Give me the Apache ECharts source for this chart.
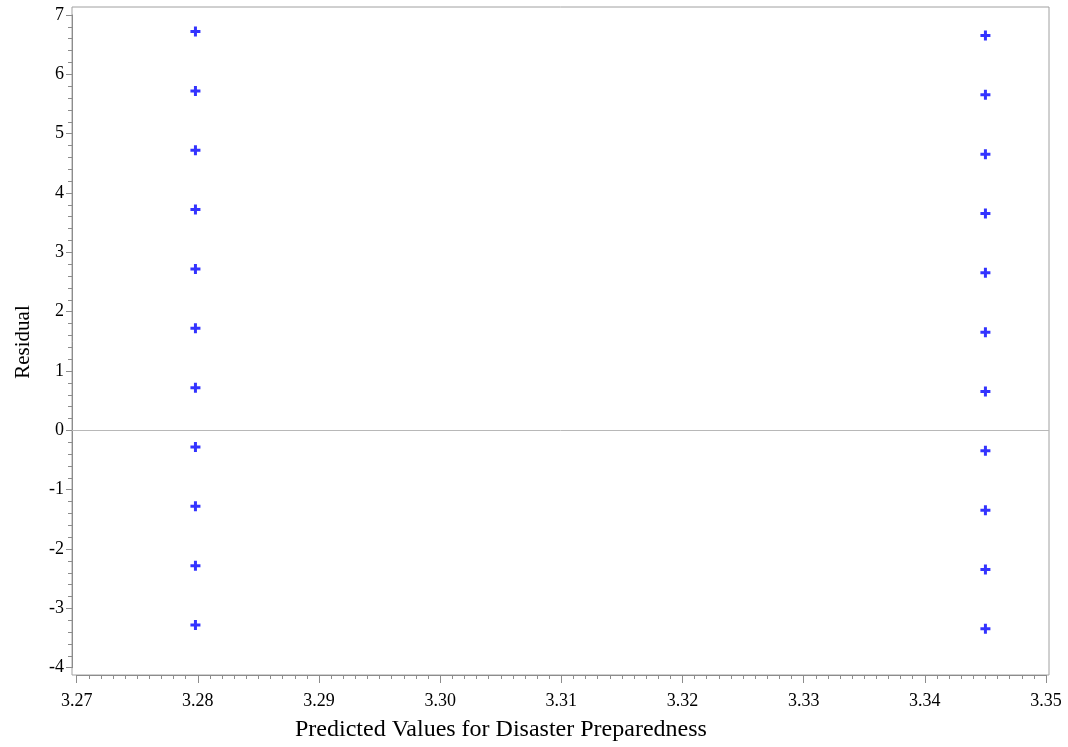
<!DOCTYPE html>
<html><head><meta charset="utf-8">
<script src="https://cdn.jsdelivr.net/npm/echarts@6/dist/echarts.min.js"></script>
<style>html,body{margin:0;padding:0;background:#fff}#c{width:1068px;height:747px}</style>
</head><body><div id="c"></div>
<script>
const predictedLow = 3.2798;
const predictedHigh = 3.345;
const residualsLow = [6.72, 5.72, 4.72, 3.72, 2.72, 1.72, 0.72, -0.28, -1.28, -2.28, -3.28];
const residualsHigh = [6.655, 5.655, 4.655, 3.655, 2.655, 1.655, 0.655, -0.345, -1.345, -2.345, -3.345];
const xTitle = 'Predicted Values for Disaster Preparedness';
const yTitle = 'Residual';
const referenceResidual = 0;

const pts = [];
residualsLow.forEach(r => pts.push([predictedLow, r]));
residualsHigh.forEach(r => pts.push([predictedHigh, r]));

const font = '"Liberation Serif", "Times New Roman", serif';
const axisGray = '#8c8c8c';
const plus = 'path://M3.5,0h3v3.5h3.5v3h-3.5v3.5h-3v-3.5h-3.5v-3h3.5z';

const chart = echarts.init(document.getElementById('c'), null, {renderer: 'canvas'});
chart.setOption({
  animation: false,
  grid: [
    {left: 72, right: 19, top: 7, bottom: 72, show: true, borderColor: '#a0a0a0', borderWidth: 1, backgroundColor: 'transparent'},
    {left: 76.7, right: 22, top: 15, bottom: 79.3}
  ],
  graphic: [
    {type: 'text', left: 295, top: 718, style: {text: xTitle, font: '24px ' + font, fill: '#000'}},
    {type: 'text', x: 13, y: 342, rotation: Math.PI / 2, style: {text: yTitle, font: '21px ' + font, fill: '#000', textAlign: 'center', textVerticalAlign: 'top'}}
  ],
  xAxis: [
    {gridIndex: 0, type: 'value', min: 0, max: 1, show: false},
    {gridIndex: 1, type: 'value', min: 3.27, max: 3.35, interval: 0.01, offset: 7.3,
     axisLine: {show: true, onZero: false, lineStyle: {color: axisGray}},
     axisTick: {show: true, length: 8, lineStyle: {color: axisGray}},
     minorTick: {show: true, splitNumber: 10, length: 4, lineStyle: {color: axisGray}},
     splitLine: {show: false},
     axisLabel: {fontFamily: font, fontSize: 18, color: '#000', margin: 17,
       formatter: v => v.toFixed(2)}}
  ],
  yAxis: [
    {gridIndex: 0, type: 'value', min: 0, max: 1, show: false},
    {gridIndex: 1, type: 'value', min: -4, max: 7, interval: 1, offset: 4.7,
     axisLine: {show: true, onZero: false, lineStyle: {color: axisGray}},
     axisTick: {show: true, length: 6, lineStyle: {color: axisGray}},
     minorTick: {show: true, splitNumber: 5, length: 4, lineStyle: {color: axisGray}},
     splitLine: {show: false},
     axisLabel: {fontFamily: font, fontSize: 18, color: '#000', margin: 8}}
  ],
  series: [
    {type: 'scatter', xAxisIndex: 1, yAxisIndex: 1, data: pts, z: 5,
     symbol: plus, symbolSize: 10,
     itemStyle: {color: '#0000ff'}}
  ]
});
const yZero = chart.convertToPixel({xAxisIndex: 1, yAxisIndex: 1}, [3.3, referenceResidual])[1];
const g0 = chart.getModel().getComponent('grid', 0).coordinateSystem.getRect();
chart.setOption({
  graphic: [
    {type: 'text', left: 295, top: 718, style: {text: xTitle, font: '24px ' + font, fill: '#000'}},
    {type: 'text', x: 13, y: 342, rotation: Math.PI / 2, style: {text: yTitle, font: '21px ' + font, fill: '#000', textAlign: 'center', textVerticalAlign: 'top'}},
    {type: 'line', z: 1, shape: {x1: g0.x, y1: Math.round(yZero) + 0.5, x2: g0.x + g0.width, y2: Math.round(yZero) + 0.5},
     style: {stroke: '#b8b8b8', lineWidth: 1}}
  ]
});
</script></body></html>
